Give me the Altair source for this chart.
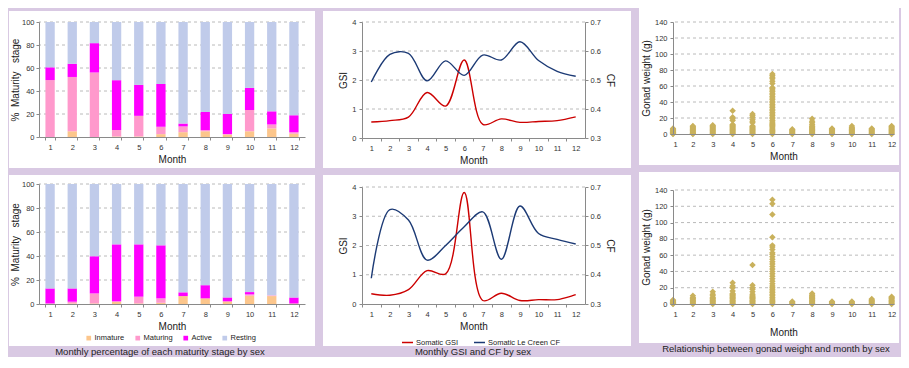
import altair as alt
import pandas as pd

# ---------------- data ----------------
MONTHS = [1, 2, 3, 4, 5, 6, 7, 8, 9, 10, 11, 12]
STAGES = ["Inmature", "Maturing", "Active", "Resting"]

TOP_INMATURE = [0.0, 5.0, 0.0, 0.5, 0.5, 2.5, 4.2, 5.0, 2.2, 5.0, 7.5, 2.8]
TOP_MATURING = [49.5, 47.2, 56.1, 5.6, 17.9, 6.4, 5.0, 0.9, 0.3, 18.5, 3.4, 1.4]
TOP_ACTIVE = [11.1, 11.5, 25.5, 43.3, 26.9, 37.2, 2.5, 15.9, 17.6, 19.2, 11.4, 14.8]
TOP_RESTING = [39.4, 36.3, 18.4, 50.6, 54.7, 53.9, 88.3, 78.2, 79.9, 57.3, 77.7, 81.0]

BOT_INMATURE = [0.0, 0.5, 0.5, 2.0, 0.5, 1.0, 6.6, 4.7, 2.2, 6.9, 6.6, 0.5]
BOT_MATURING = [0.5, 1.4, 8.3, 0.2, 5.6, 3.7, 0.0, 0.0, 0.0, 1.1, 0.6, 0.0]
BOT_ACTIVE = [12.5, 11.1, 31.0, 47.5, 43.6, 44.2, 3.1, 11.0, 3.3, 1.9, 0.0, 5.0]
BOT_RESTING = [87.0, 87.0, 60.2, 50.3, 50.3, 51.1, 90.3, 84.3, 94.5, 90.1, 92.8, 94.5]

SERIES = ["Somatic GSI", "Somatic Le Creen CF"]
GSI_TOP = [0.55, 0.60, 0.72, 1.57, 1.10, 2.69, 0.47, 0.66, 0.54, 0.57, 0.60, 0.73]
CF_TOP = [0.493, 0.588, 0.592, 0.497, 0.566, 0.516, 0.586, 0.569, 0.632, 0.567, 0.530, 0.513]
GSI_BOT = [0.35, 0.30, 0.49, 1.14, 1.03, 3.81, 0.12, 0.37, 0.12, 0.15, 0.15, 0.32]
CF_BOT = [0.388, 0.623, 0.587, 0.450, 0.500, 0.564, 0.615, 0.453, 0.635, 0.541, 0.521, 0.505]

WEIGHT_TOP = [
    [0, 0.5, 1, 1.5, 2, 2.5, 3, 4, 5, 6, 7],
    [0, 0.5, 1, 2, 3, 4, 5, 6, 7, 8, 9, 10],
    [0, 1, 2, 3, 4, 5, 6, 7, 8, 9, 10, 11],
    [0, 1, 2, 3, 4, 5, 6, 7, 8, 9, 10, 11, 12, 17, 19, 21, 29],
    [0, 1, 2, 3, 4, 5, 6, 7, 8, 9, 10, 14, 16, 18, 21, 23, 25],
    [0, 1.5, 3, 4.5, 6, 7.5, 9, 10.5, 12, 13.5, 15, 17, 19, 21, 23, 25, 27, 29, 31,
     33, 35, 37, 39, 41, 43, 45, 47, 49, 51, 53, 55, 57, 58, 63, 66, 69, 71, 73, 75],
    [0, 1, 2, 3, 4, 5, 6],
    [0, 1, 2, 3, 4, 5, 6, 7, 8, 9, 10, 12, 14, 16, 19],
    [0, 1, 2, 3, 4, 5, 6, 7],
    [0, 1, 2, 3, 4, 5, 6, 7, 8, 10],
    [0, 1, 2, 3, 4, 5, 6, 7],
    [0, 1, 2, 3, 4, 5, 6, 7, 8, 9, 10],
]
WEIGHT_BOT = [
    [0, 0.5, 1, 1.5, 2, 3, 4, 5],
    [0, 1, 2, 3, 4, 5, 6, 7, 8, 10],
    [0, 1, 2, 3, 4, 5, 6, 7, 8, 10, 12, 15],
    [0, 1, 2, 3, 4, 5, 6, 7, 8, 9, 10, 11, 12, 13, 16, 20, 22, 26],
    [0, 1, 2, 3, 4, 5, 6, 7, 8, 9, 10, 12, 15, 18, 20, 23, 48],
    [0, 1.5, 3, 4.5, 6, 8, 10, 12, 14, 16, 18, 20, 22, 25, 28, 31, 34, 37, 40, 43,
     46, 49, 52, 55, 58, 61, 63, 67, 70, 72, 82, 110, 123, 128],
    [0, 1, 2, 3],
    [0, 1, 2, 3, 4, 5, 6, 7, 8, 9, 10, 11, 13],
    [0, 1, 2, 3],
    [0, 1, 2, 3],
    [0, 1, 2, 3, 4, 5, 6],
    [0, 1, 2, 3, 4, 5, 6, 7, 8, 9],
]

PCT_TICKS = [0, 20, 40, 60, 80, 100]
GSI_TICKS = [0, 1, 2, 3, 4]
CF_TICKS = [0.3, 0.4, 0.5, 0.6, 0.7]
WEIGHT_TICKS = [0, 20, 40, 60, 80, 100, 120, 140]

CAPTIONS = [
    "Monthly percentage of each maturity stage by sex",
    "Monthly GSI and CF by sex",
    "Relationship between gonad weight and month by sex",
]

# ---------------- style ----------------
FONT = "Liberation Sans"
BG = "#d9c9e3"
GRID = "#a8a8a8"
AXC = "#8a8a8a"
STAGE_COLORS = ["#fcc68c", "#ff99cc", "#ff00ff", "#c0cbea"]
SERIES_COLORS = ["#cc0000", "#1c3a75"]
DOT = "#c9b15c"
ONE = alt.Data(values=[{}])


def axis(**kw):
    base = dict(zindex=1, labelFont=FONT, titleFont=FONT, labelFontSize=7.5, titleFontSize=10,
                titleFontWeight="normal", labelColor="#333333", titleColor="#1a1a1a",
                domainColor=AXC, tickColor=AXC, domainWidth=1, grid=False)
    base.update(kw)
    return alt.Axis(**base)


def box(x0, x1, y0, y1, color="white"):
    return alt.Chart(ONE).mark_rect(color=color, strokeWidth=0).encode(
        x=alt.value(x0), x2=alt.value(x1), y=alt.value(y0), y2=alt.value(y1))


def caption(text, x, y):
    return alt.Chart(ONE).mark_text(font=FONT, fontSize=9.5, color="#222222",
                                    align="center", baseline="middle").encode(
        x=alt.value(x), y=alt.value(y), text=alt.value(text))


def rules(field, values, scale, ax):
    return alt.Chart(pd.DataFrame({field: values})).mark_rule(
        color=GRID, strokeDash=[3, 3], strokeWidth=0.8).encode(
        y=alt.Y(f"{field}:Q", scale=scale, axis=ax))


def bar_panel(stacks, w, h, bg_layers, legend, extra):
    rows = []
    for i, m in enumerate(MONTHS):
        for k, vals in enumerate(stacks):
            rows.append({"Month": m, "Stage": STAGES[k], "k": k, "Pct": vals[i]})
    df = pd.DataFrame(rows)
    yscale = alt.Scale(domain=[0, 100], nice=False)
    yaxis = axis(values=PCT_TICKS, title="%\u00a0\u00a0Maturity\u00a0\u00a0\u00a0stage",
                 tickSize=3, labelPadding=2, titlePadding=1)
    xaxis = axis(title="Month", labelAngle=0, tickBand="extent", tickSize=3,
                 labelPadding=3, titlePadding=4)
    bars = alt.Chart(df).mark_bar().encode(
        x=alt.X("Month:O", scale=alt.Scale(paddingInner=0.58, paddingOuter=0.29), axis=xaxis),
        y=alt.Y("Pct:Q", stack="zero", scale=yscale, axis=yaxis),
        color=alt.Color("Stage:N", scale=alt.Scale(domain=STAGES, range=STAGE_COLORS),
                        legend=legend),
        order=alt.Order("k:Q"),
    )
    grid = rules("Pct", PCT_TICKS[1:], yscale, yaxis)
    return alt.layer(*bg_layers, grid, bars, *extra).properties(width=w, height=h)


def line_panel(gsi, cf, w, h, bg_layers, legend, extra):
    df = pd.DataFrame({"Month": MONTHS, "GSI": gsi, "CF": cf})
    step = w / 12.0
    xscale = alt.Scale(domain=[0.5, 12.5], nice=False, zero=False)
    xaxis = axis(values=MONTHS, format="d", title="Month", tickSize=3,
                 tickOffset=-step / 2, labelOffset=step / 2, labelPadding=3, titlePadding=4)
    gscale = alt.Scale(domain=[0, 4], nice=False)
    gaxis = axis(values=GSI_TICKS, title="GSI", orient="left", tickSize=3,
                 labelPadding=3, titlePadding=3)
    cscale = alt.Scale(domain=[0.3, 0.7], nice=False, zero=False)
    caxis = axis(values=CF_TICKS, format=".1f", title="CF", orient="right",
                 tickSize=3, labelPadding=2, titlePadding=4)
    color_scale = alt.Scale(domain=SERIES, range=SERIES_COLORS)
    g = alt.Chart(df).transform_calculate(series=f"'{SERIES[0]}'").mark_line(
        interpolate="catmull-rom", strokeWidth=1.4).encode(
        x=alt.X("Month:Q", scale=xscale, axis=xaxis),
        y=alt.Y("GSI:Q", scale=gscale, axis=gaxis),
        color=alt.Color("series:N", scale=color_scale, legend=legend),
    )
    c = alt.Chart(df).transform_calculate(series=f"'{SERIES[1]}'").mark_line(
        interpolate="catmull-rom", strokeWidth=1.4).encode(
        x=alt.X("Month:Q", scale=xscale, axis=xaxis),
        y=alt.Y("CF:Q", scale=cscale, axis=caxis),
        color=alt.Color("series:N", scale=color_scale, legend=legend),
    )
    grid = rules("GSI", GSI_TICKS[1:], gscale, gaxis)
    inner = alt.layer(*bg_layers, grid, g, *extra)
    return alt.layer(inner, c).resolve_scale(y="independent").properties(width=w, height=h)


def scatter_panel(weights, w, h, bg_layers, title_pad, extra):
    rows = [{"Month": m, "Weight": v} for m, vs in zip(MONTHS, weights) for v in vs]
    df = pd.DataFrame(rows)
    xscale = alt.Scale(domain=[1, 12.12], nice=False, zero=False)
    xaxis = axis(values=MONTHS, format="d", title="Month", ticks=False,
                 tickSize=0, labelPadding=6, titlePadding=title_pad)
    yscale = alt.Scale(domain=[0, 140], nice=False)
    yaxis = axis(values=WEIGHT_TICKS, title="Gonad weight (g)", tickSize=3,
                 labelPadding=3, titlePadding=3)
    pts = alt.Chart(df).mark_point(filled=True, shape="diamond", size=42, color=DOT,
                                   opacity=1).encode(
        x=alt.X("Month:Q", scale=xscale, axis=xaxis),
        y=alt.Y("Weight:Q", scale=yscale, axis=yaxis),
    )
    grid = rules("Weight", WEIGHT_TICKS[1:], yscale, yaxis)
    return alt.layer(*bg_layers, grid, pts, *extra).properties(width=w, height=h)


stage_legend = alt.Legend(orient="none", legendX=46, legendY=150, direction="horizontal",
                          title=None, symbolType="square", symbolSize=22, symbolStrokeWidth=0,
                          labelFontSize=7.5, labelOffset=2, columnPadding=9,
                          labelColor="#222222", labelFont=FONT)
series_legend = alt.Legend(orient="none", legendX=39, legendY=149, direction="horizontal",
                           title=None, symbolType="stroke", symbolSize=121,
                           symbolStrokeWidth=1.5, labelFontSize=7.5, labelOffset=2,
                           columnPadding=12, labelColor="#222222", labelFont=FONT)

# column 1 (plot origin page x 39)
p1t = bar_panel([TOP_INMATURE, TOP_MATURING, TOP_ACTIVE, TOP_RESTING], 266, 115,
                [box(-30, 276, -11, 146)], None, [])
p1b = bar_panel([BOT_INMATURE, BOT_MATURING, BOT_ACTIVE, BOT_RESTING], 266, 120,
                [box(-30, 276, -9, 173, BG), box(-30, 276, -9, 162)], stage_legend,
                [caption(CAPTIONS[0], 121, 168)])
# column 2 (plot origin page x 362)
p2t = line_panel(GSI_TOP, CF_TOP, 223, 116, [box(-39, 269, -11, 146)], None, [])
p2b = line_panel(GSI_BOT, CF_BOT, 223, 117, [box(-39, 269, -12, 159)], series_legend,
                 [caption(CAPTIONS[1], 111, 165)])
# column 3 (plot origin page x 673)
p3t = scatter_panel(WEIGHT_TOP, 221, 112, [box(-34, 226, -14, 143)], 4, [])
p3b = scatter_panel(WEIGHT_BOT, 221, 114, [box(-34, 226, -18, 153)], 10,
                    [caption(CAPTIONS[2], 103, 159)])


def col(a, b):
    return (alt.vconcat(a, b, spacing=7)
            .resolve_scale(color="independent").resolve_legend(color="independent"))


chart = (
    alt.hconcat(col(p1t, p1b), col(p2t, p2b), col(p3t, p3b), spacing=8)
    .resolve_scale(color="independent")
    .resolve_legend(color="independent")
    .properties(padding={"left": 1, "top": 0, "right": 2, "bottom": 0}, background=BG)
    .configure_view(stroke=None)
    .configure_legend(labelFont=FONT)
)

chart.save("out.html", embed_options={"renderer": "svg", "actions": False})
